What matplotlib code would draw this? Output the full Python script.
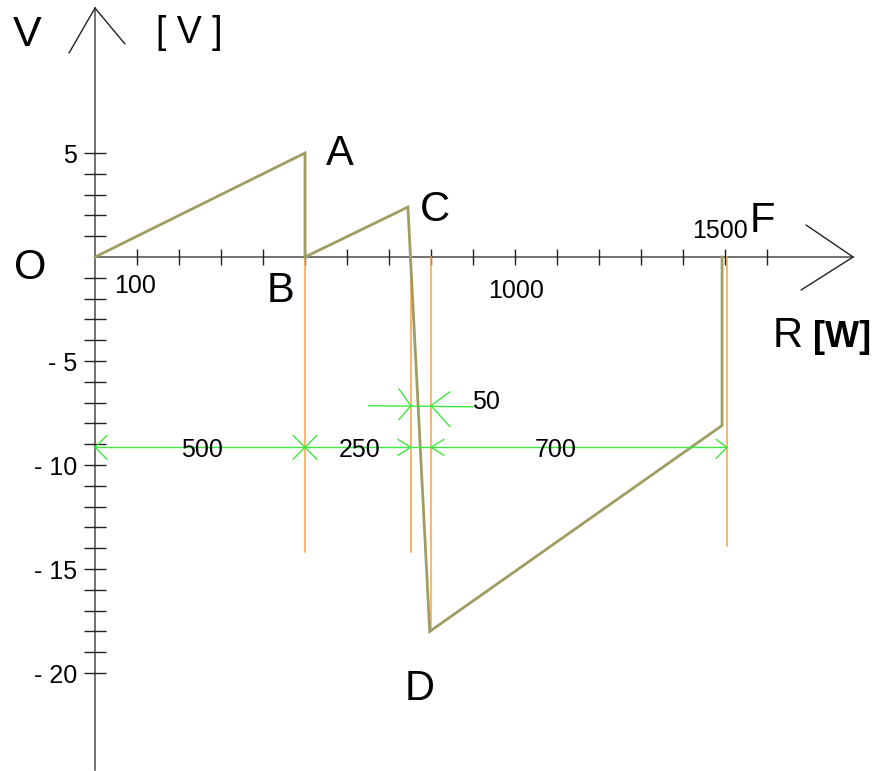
import matplotlib
matplotlib.use("Agg")
import matplotlib.pyplot as plt

plt.rcParams["font.family"] = ["Liberation Sans", "DejaVu Sans"]

# V(R) waveform, R in ohm, V in volt
curve_r = [0, 500, 500, 745, 797, 1493, 1493]
curve_v = [0, 5.0, 0, 2.4, -18.0, -8.1, 0]

# named points and where their letters sit (pixel offsets from the point)
point_names = ["O", "A", "B", "C", "D", "F"]
point_r = [0, 500, 500, 745, 797, 1493]
point_v = [0, 5.0, 0, 2.4, -18.0, 0]
point_dx = [-65, 35, -24, 27, -10, 40]
point_dy = [-22, -12, -45, -14, -69, 25]

# orange construction lines
guide_r = [500, 752, 800, 1505]
guide_bottom = [-14.2, -14.2, -18.0, -13.9]

# dimension chain
dim_bounds = [0, 500, 752, 800, 1505]
dim_level = -9.15
dim_labels = ["500", "250", "700"]
dim_label_r = [255, 631, 1098]
dim_label_v = -9.62
gap_label = "50"
gap_level = -7.15
gap_line_r = [652, 900]
gap_label_pos = (931, -7.31)

# axis ticks and labels
xtick_r = [100, 200, 300, 400, 500, 600, 700, 800, 900, 1000,
           1100, 1200, 1300, 1400, 1500, 1600]
xlabel_r = [100, 1000, 1500]
xlabel_text = ["100", "1000", "1500"]
xlabel_dx = [-2, 1, -5]
xlabel_dy = [-36, -41, 19]
ytick_v = [5, 4, 3, 2, 1, -1, -2, -3, -4, -5, -6, -7, -8, -9, -10,
           -11, -12, -13, -14, -15, -16, -17, -18, -19, -20]
ylabel_v = [5, -5, -10, -15, -20]
ylabel_text = ["5", "- 5", "- 10", "- 15", "- 20"]

OLIVE = "#9e9e62"
ORANGE = "#ff9f45"
GREEN = "#3ee83e"
AXIS = "#4a4a4a"

fig = plt.figure(figsize=(8.84, 7.71), dpi=100)
ax = fig.add_axes([0, 0, 1, 1])
ax.set_xlim(-226.2, 1878.6)
ax.set_ylim(-24.71, 12.356)
ax.axis("off")


def arm(x, y, dx, dy, color, lw=1.0):
    ax.annotate("", xy=(x, y), xytext=(dx, dy), textcoords="offset pixels",
                arrowprops=dict(arrowstyle="-", color=color, lw=lw,
                                shrinkA=0, shrinkB=0))


def label(txt, xy, dx, dy, size, ha="center", **kw):
    ax.annotate(txt, xy, xytext=(dx, dy), textcoords="offset pixels",
                ha=ha, va="baseline", fontsize=size, **kw)


# axes
ax.plot([0, 0], [-24.66, 11.97], color=AXIS, lw=1.1)
ax.plot([0, 1805], [0, 0], color=AXIS, lw=1.1)
arm(0, 11.97, -26, -45, "#222222")
arm(0, 11.97, 30, -36, "#222222")
arm(1805, 0, -47, 32, "#222222")
arm(1805, 0, -52, -33, "#222222")

ax.plot(xtick_r, [0] * len(xtick_r), ls="", marker="|", markersize=12,
        markeredgewidth=1.0, color="#222222")
ax.plot([0] * len(ytick_v), ytick_v, ls="", marker="_", markersize=16,
        markeredgewidth=1.0, color="#222222")

for r, txt, dx, dy in zip(xlabel_r, xlabel_text, xlabel_dx, xlabel_dy):
    label(txt, (r, 0), dx, dy, 18)
for v, txt in zip(ylabel_v, ylabel_text):
    label(txt, (0, v), -18, -10, 18, ha="right")

# construction lines
for r, b in zip(guide_r, guide_bottom):
    ax.plot([r, r], [0, b], color=ORANGE, lw=1.1)

# waveform
ax.plot(curve_r, curve_v, color=OLIVE, lw=2.0, solid_joinstyle="miter")

# dimension lines
ax.plot([dim_bounds[0], dim_bounds[-1]], [dim_level, dim_level], color=GREEN, lw=1.0)
arm(dim_bounds[0], dim_level, 12, 12, GREEN)
arm(dim_bounds[0], dim_level, 12, -12, GREEN)
for s in (1, -1):
    arm(dim_bounds[1], dim_level, 12 * s, 12, GREEN)
    arm(dim_bounds[1], dim_level, 12 * s, -12, GREEN)
arm(dim_bounds[2], dim_level, -13, 8, GREEN)
arm(dim_bounds[2], dim_level, -13, -8, GREEN)
arm(dim_bounds[3], dim_level, 13, 8, GREEN)
arm(dim_bounds[3], dim_level, 13, -8, GREEN)
arm(dim_bounds[4], dim_level, -11, 8, GREEN)
arm(dim_bounds[4], dim_level, -11, -11, GREEN)
for r, txt in zip(dim_label_r, dim_labels):
    ax.text(r, dim_label_v, txt, ha="center", va="baseline", fontsize=18)

ax.plot(gap_line_r, [gap_level, gap_level - 0.05], color=GREEN, lw=1.0)
arm(dim_bounds[2], gap_level, -12, 17, GREEN)
arm(dim_bounds[2], gap_level, -12, -14, GREEN)
arm(dim_bounds[3], gap_level, 19, 14, GREEN)
arm(dim_bounds[3], gap_level, 19, -21, GREEN)
ax.text(gap_label_pos[0], gap_label_pos[1], gap_label, ha="center",
        va="baseline", fontsize=18)

# point letters
for name, r, v, dx, dy in zip(point_names, point_r, point_v, point_dx, point_dy):
    label(name, (r, v), dx, dy, 30)

# axis titles
label("V", (0, 11.97), -68, -38, 31)
label("[ V ]", (0, 11.97), 94, -35, 27)
label("R", (1805, 0), -80, -90, 30, ha="left")
label("[W]", (1805, 0), 18, -90, 26, ha="right", fontweight="bold")

fig.savefig("out.png", dpi=100)
